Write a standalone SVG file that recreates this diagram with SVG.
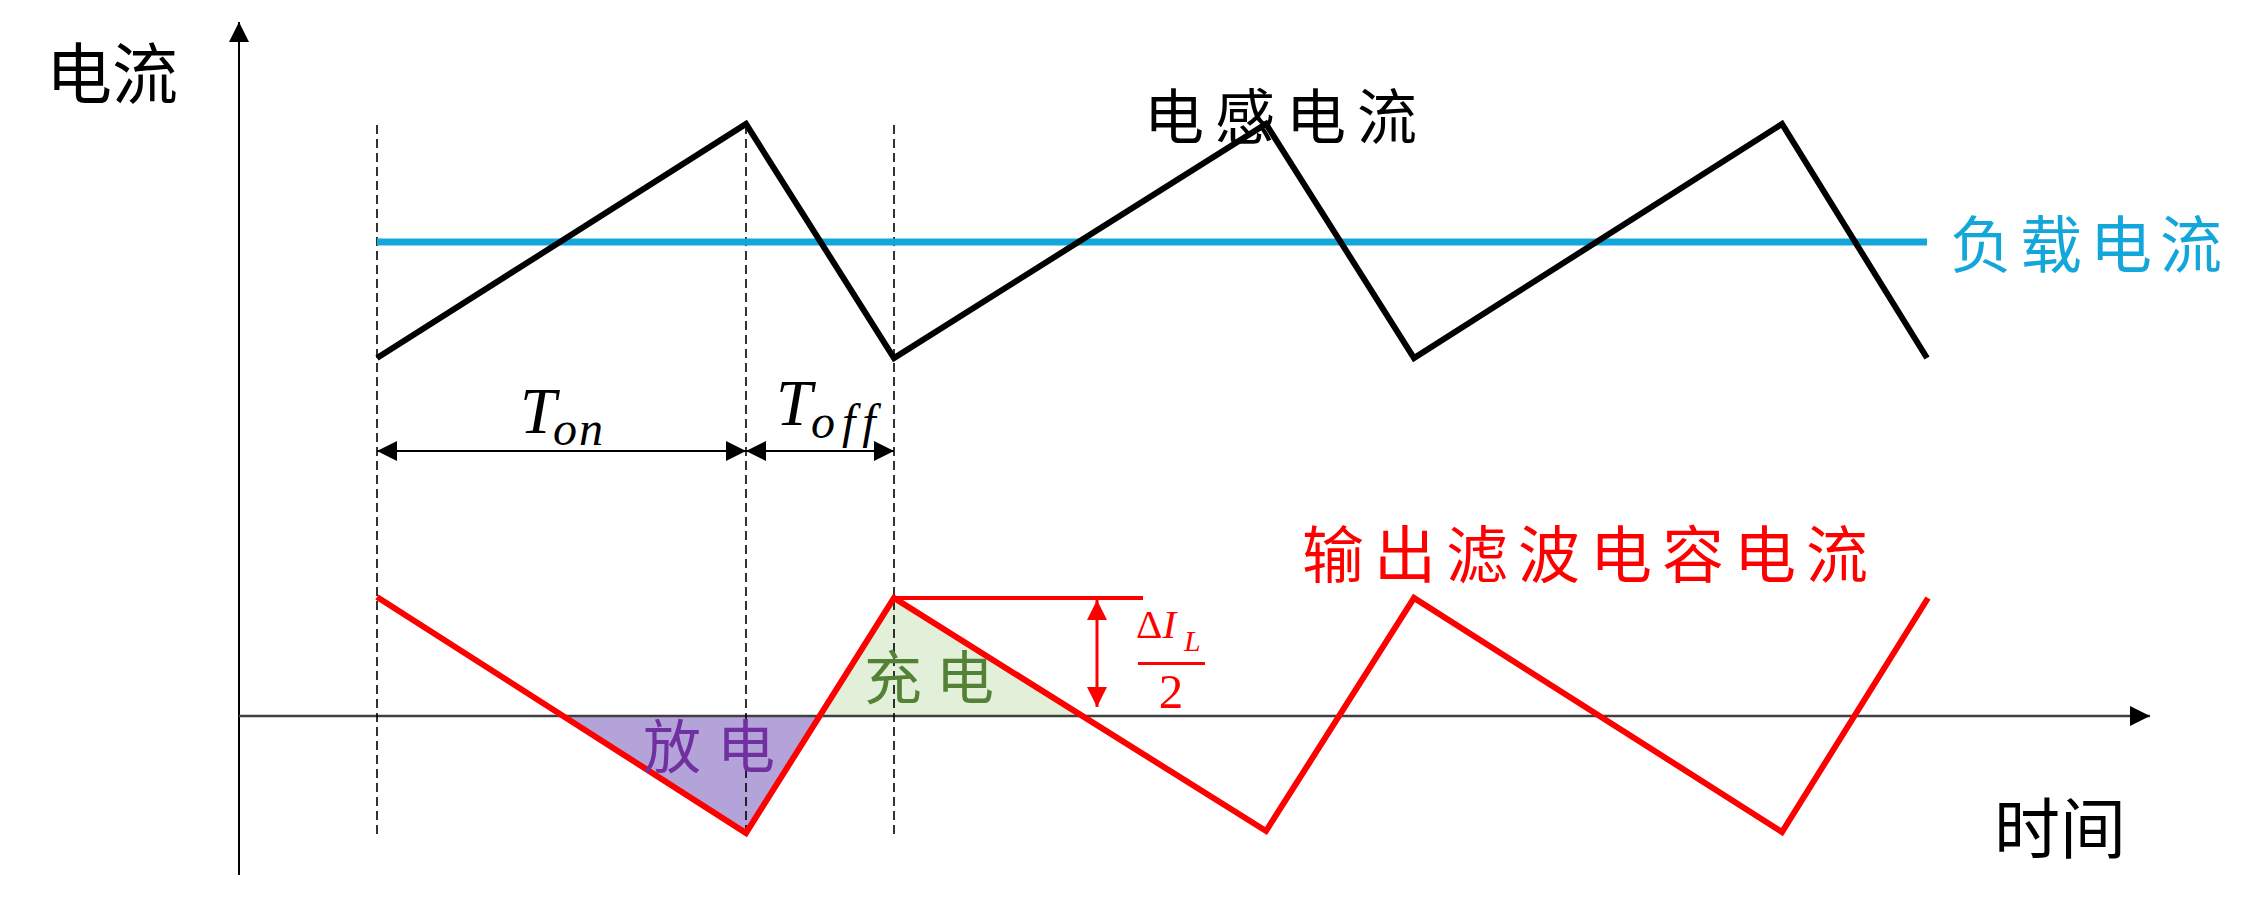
<svg xmlns="http://www.w3.org/2000/svg" width="2256" height="904" viewBox="0 0 2256 904">
<style>
.cjk{font-family:"Noto Sans CJK SC","Noto Sans",sans-serif;}
.math{font-family:"Liberation Serif","DejaVu Serif",serif;font-style:italic;}
.dash{stroke:#000;stroke-width:1.6;stroke-dasharray:9 5;fill:none;}
.wave{fill:none;stroke-width:6;stroke-linejoin:miter;stroke-linecap:butt;}
</style>
<defs>
<marker id="arrB" viewBox="0 0 20 20" refX="20" refY="10" markerWidth="20" markerHeight="20" markerUnits="userSpaceOnUse" orient="auto-start-reverse"><path d="M0,0 L20,10 L0,20 Z" fill="#000"/></marker>
<marker id="arrR" viewBox="0 0 20 20" refX="20" refY="10" markerWidth="20" markerHeight="20" markerUnits="userSpaceOnUse" orient="auto-start-reverse"><path d="M0,0 L20,10 L0,20 Z" fill="#FF0000"/></marker>
</defs>
<rect width="2256" height="904" fill="#fff"/>

<g id="fills">
<polygon points="563,716 746,833 820,716" fill="#B4A3D8"/>
<polygon points="820,716 894,598 1082,716" fill="#E2F0D9"/>
</g>

<g id="axes">
<line x1="239" y1="875" x2="239" y2="22" stroke="#000" stroke-width="2" marker-end="url(#arrB)"/>
<line x1="239" y1="716" x2="2150" y2="716" stroke="#404040" stroke-width="2.5" marker-end="url(#arrB)"/>
</g>

<g id="guides">
<line class="dash" x1="377" y1="125" x2="377" y2="835"/>
<line class="dash" x1="746" y1="125" x2="746" y2="835"/>
<line class="dash" x1="894" y1="125" x2="894" y2="835"/>
</g>

<g id="connectors">
<line x1="377" y1="451" x2="746" y2="451" stroke="#000" stroke-width="2" marker-start="url(#arrB)" marker-end="url(#arrB)"/>
<line x1="746" y1="451" x2="894" y2="451" stroke="#000" stroke-width="2" marker-start="url(#arrB)" marker-end="url(#arrB)"/>
<line x1="894" y1="598" x2="1143" y2="598" stroke="#FF0000" stroke-width="4"/>
<line x1="1097" y1="600" x2="1097" y2="707" stroke="#FF0000" stroke-width="3" marker-start="url(#arrR)" marker-end="url(#arrR)"/>
</g>

<g id="load-current">
<line x1="377" y1="242" x2="1927" y2="242" stroke="#12A6DB" stroke-width="7"/>
<text class="cjk" x="1950" y="268" font-size="62" letter-spacing="8" fill="#12A6DB">负载电流</text>
</g>

<g id="inductor-current">
<polyline class="wave" stroke="#000" points="377,358 746,124 894,358 1266,124 1414,358 1782,124 1927,358"/>
<text class="cjk" x="1144" y="139" font-size="60" letter-spacing="11" fill="#000">电感电流</text>
</g>

<g id="capacitor-current">
<polyline class="wave" stroke="#FF0000" points="377,597 746,833 894,598 1266,831 1414,598 1782,832 1928,598"/>
<text class="cjk" x="1302" y="578" font-size="62" letter-spacing="10" fill="#FF0000">输出滤波电容电流</text>
</g>

<g id="discharge">
<text class="cjk" x="643" y="768" font-size="58" letter-spacing="16" fill="#7030A0">放电</text>
</g>
<g id="charge">
<text class="cjk" x="864" y="699" font-size="58" letter-spacing="14" fill="#538135">充电</text>
</g>

<g id="ton-label">
<text class="math" x="520" y="433" font-size="65">T</text>
<text class="math" x="553" y="445" font-size="48" letter-spacing="2">on</text>
</g>
<g id="toff-label">
<text class="math" x="776" y="425" font-size="65">T</text>
<text class="math" x="811" y="438" font-size="48" letter-spacing="7">off</text>
</g>

<g id="delta-label">
<text x="1136" y="638" font-size="41" font-family="Liberation Serif, serif" fill="#FF0000">Δ<tspan font-style="italic">I</tspan></text>
<text class="math" x="1184" y="651" font-size="30" fill="#FF0000">L</text>
<rect x="1138" y="662" width="67" height="3" fill="#FF0000"/>
<text x="1171" y="708" font-size="49" font-family="Liberation Serif, serif" text-anchor="middle" fill="#FF0000">2</text>
</g>

<g id="axis-labels">
<text class="cjk" x="46" y="98" font-size="66" fill="#000">电流</text>
<text class="cjk" x="1994" y="853" font-size="66" fill="#000">时间</text>
</g>
</svg>
